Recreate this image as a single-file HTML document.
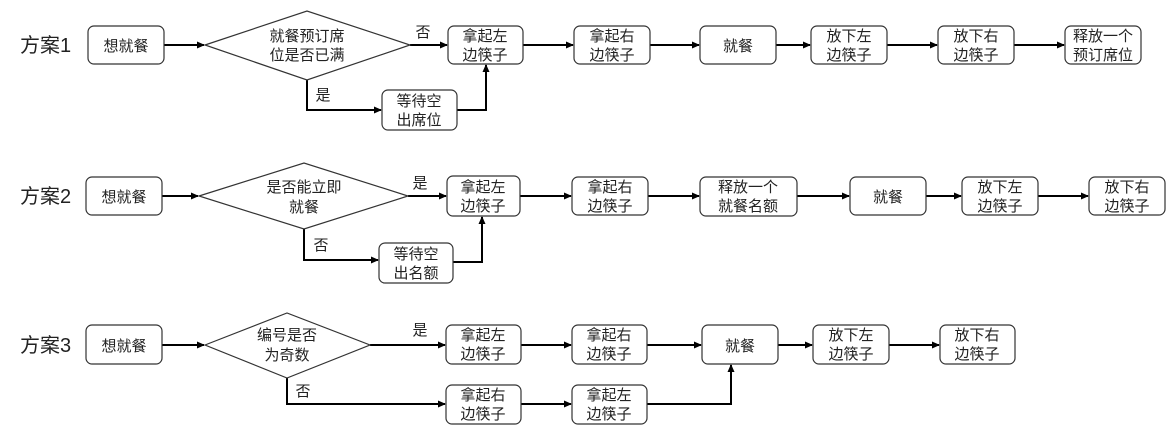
<!DOCTYPE html>
<html><head><meta charset="utf-8"><style>
body{margin:0;background:#fff;}
svg text{font-family:"Liberation Sans","Noto Sans CJK SC",sans-serif;fill:#222;}
</style></head><body>
<svg width="1176" height="432" viewBox="0 0 1176 432" xmlns="http://www.w3.org/2000/svg">
<defs><marker id="a" markerWidth="8" markerHeight="8" refX="7" refY="4" orient="auto" markerUnits="userSpaceOnUse"><path d="M0,0.5 L8,4 L0,7.5z" fill="#000"/></marker></defs>
<g stroke="#000" stroke-width="2" fill="none" marker-end="url(#a)">
<!-- row1 -->
<line x1="164" y1="45" x2="204" y2="45"/>
<line x1="410" y1="45" x2="447" y2="45"/>
<line x1="523" y1="45" x2="573" y2="45"/>
<line x1="650" y1="45" x2="699" y2="45"/>
<line x1="776" y1="45" x2="810" y2="45"/>
<line x1="887" y1="45" x2="937" y2="45"/>
<line x1="1014" y1="45" x2="1064" y2="45"/>
<polyline points="307,80 307,110 381,110"/>
<polyline points="457,110 486,110 486,65"/>
<!-- row2 -->
<line x1="162" y1="196" x2="198" y2="196"/>
<line x1="408" y1="196" x2="446" y2="196"/>
<line x1="520" y1="196" x2="571" y2="196"/>
<line x1="648" y1="196" x2="699" y2="196"/>
<line x1="797" y1="196" x2="849" y2="196"/>
<line x1="926" y1="196" x2="961" y2="196"/>
<line x1="1038" y1="196" x2="1088" y2="196"/>
<polyline points="304,229 304,260 378,260"/>
<polyline points="453,262 482,262 482,217"/>
<!-- row3 -->
<line x1="162" y1="345" x2="204" y2="345"/>
<line x1="370" y1="345" x2="445" y2="345"/>
<line x1="521" y1="345" x2="571" y2="345"/>
<line x1="647" y1="345" x2="701" y2="345"/>
<line x1="778" y1="345" x2="812" y2="345"/>
<line x1="889" y1="345" x2="939" y2="345"/>
<polyline points="287,378 287,404 445,404"/>
<line x1="521" y1="404" x2="571" y2="404"/>
<polyline points="647,404 731,404 731,365"/>
</g>
<g stroke="#333" stroke-width="1.2" fill="#fff">
<polygon points="205,45 307,11 410,45 307,80"/>
<polygon points="199,196 304,163 408,196 304,229"/>
<polygon points="205,345 287,313 370,345 287,378"/>
<rect x="88" y="26" width="76" height="38" rx="6"/>
<rect x="448" y="26" width="75" height="38" rx="6"/>
<rect x="574" y="26" width="76" height="38" rx="6"/>
<rect x="700" y="26" width="76" height="38" rx="6"/>
<rect x="811" y="26" width="76" height="38" rx="6"/>
<rect x="938" y="26" width="76" height="38" rx="6"/>
<rect x="1065" y="26" width="76" height="38" rx="6"/>
<rect x="382" y="90" width="75" height="40" rx="6"/>
<rect x="86" y="177" width="76" height="38" rx="6"/>
<rect x="447" y="176" width="73" height="40" rx="6"/>
<rect x="572" y="177" width="76" height="38" rx="6"/>
<rect x="700" y="177" width="97" height="39" rx="6"/>
<rect x="850" y="177" width="76" height="38" rx="6"/>
<rect x="962" y="177" width="76" height="38" rx="6"/>
<rect x="1089" y="177" width="76" height="38" rx="6"/>
<rect x="379" y="243" width="74" height="40" rx="6"/>
<rect x="86" y="325" width="76" height="39" rx="6"/>
<rect x="446" y="325" width="75" height="39" rx="6"/>
<rect x="572" y="325" width="75" height="39" rx="6"/>
<rect x="702" y="325" width="76" height="39" rx="6"/>
<rect x="813" y="325" width="76" height="39" rx="6"/>
<rect x="940" y="325" width="75" height="39" rx="6"/>
<rect x="446" y="385" width="75" height="39" rx="6"/>
<rect x="572" y="385" width="75" height="39" rx="6"/>
</g>
<g font-size="20"><text x="20" y="52">方案1</text><text x="20" y="203">方案2</text><text x="20" y="352">方案3</text></g>
<g font-size="15" text-anchor="middle">
<text x="126" y="51">想就餐</text>
<text x="307" y="41">就餐预订席</text><text x="307" y="60">位是否已满</text>
<text x="485" y="41">拿起左</text><text x="485" y="60">边筷子</text>
<text x="612" y="41">拿起右</text><text x="612" y="60">边筷子</text>
<text x="738" y="51">就餐</text>
<text x="849" y="41">放下左</text><text x="849" y="60">边筷子</text>
<text x="976" y="41">放下右</text><text x="976" y="60">边筷子</text>
<text x="1103" y="41">释放一个</text><text x="1103" y="60">预订席位</text>
<text x="419" y="106">等待空</text><text x="419" y="125">出席位</text>
<text x="423" y="37">否</text><text x="323" y="100">是</text>

<text x="124" y="202">想就餐</text>
<text x="304" y="192">是否能立即</text><text x="304" y="212">就餐</text>
<text x="483" y="192">拿起左</text><text x="483" y="211">边筷子</text>
<text x="610" y="192">拿起右</text><text x="610" y="211">边筷子</text>
<text x="748" y="192">释放一个</text><text x="748" y="211">就餐名额</text>
<text x="888" y="202">就餐</text>
<text x="1000" y="192">放下左</text><text x="1000" y="211">边筷子</text>
<text x="1127" y="192">放下右</text><text x="1127" y="211">边筷子</text>
<text x="416" y="259">等待空</text><text x="416" y="278">出名额</text>
<text x="420" y="188">是</text><text x="321" y="250">否</text>

<text x="124" y="351">想就餐</text>
<text x="287" y="340">编号是否</text><text x="287" y="360">为奇数</text>
<text x="483" y="340">拿起左</text><text x="483" y="359">边筷子</text>
<text x="609" y="340">拿起右</text><text x="609" y="359">边筷子</text>
<text x="740" y="351">就餐</text>
<text x="851" y="340">放下左</text><text x="851" y="359">边筷子</text>
<text x="977" y="340">放下右</text><text x="977" y="359">边筷子</text>
<text x="483" y="400">拿起右</text><text x="483" y="419">边筷子</text>
<text x="609" y="400">拿起左</text><text x="609" y="419">边筷子</text>
<text x="420" y="335">是</text><text x="303" y="396">否</text>
</g>
</svg>
</body></html>
